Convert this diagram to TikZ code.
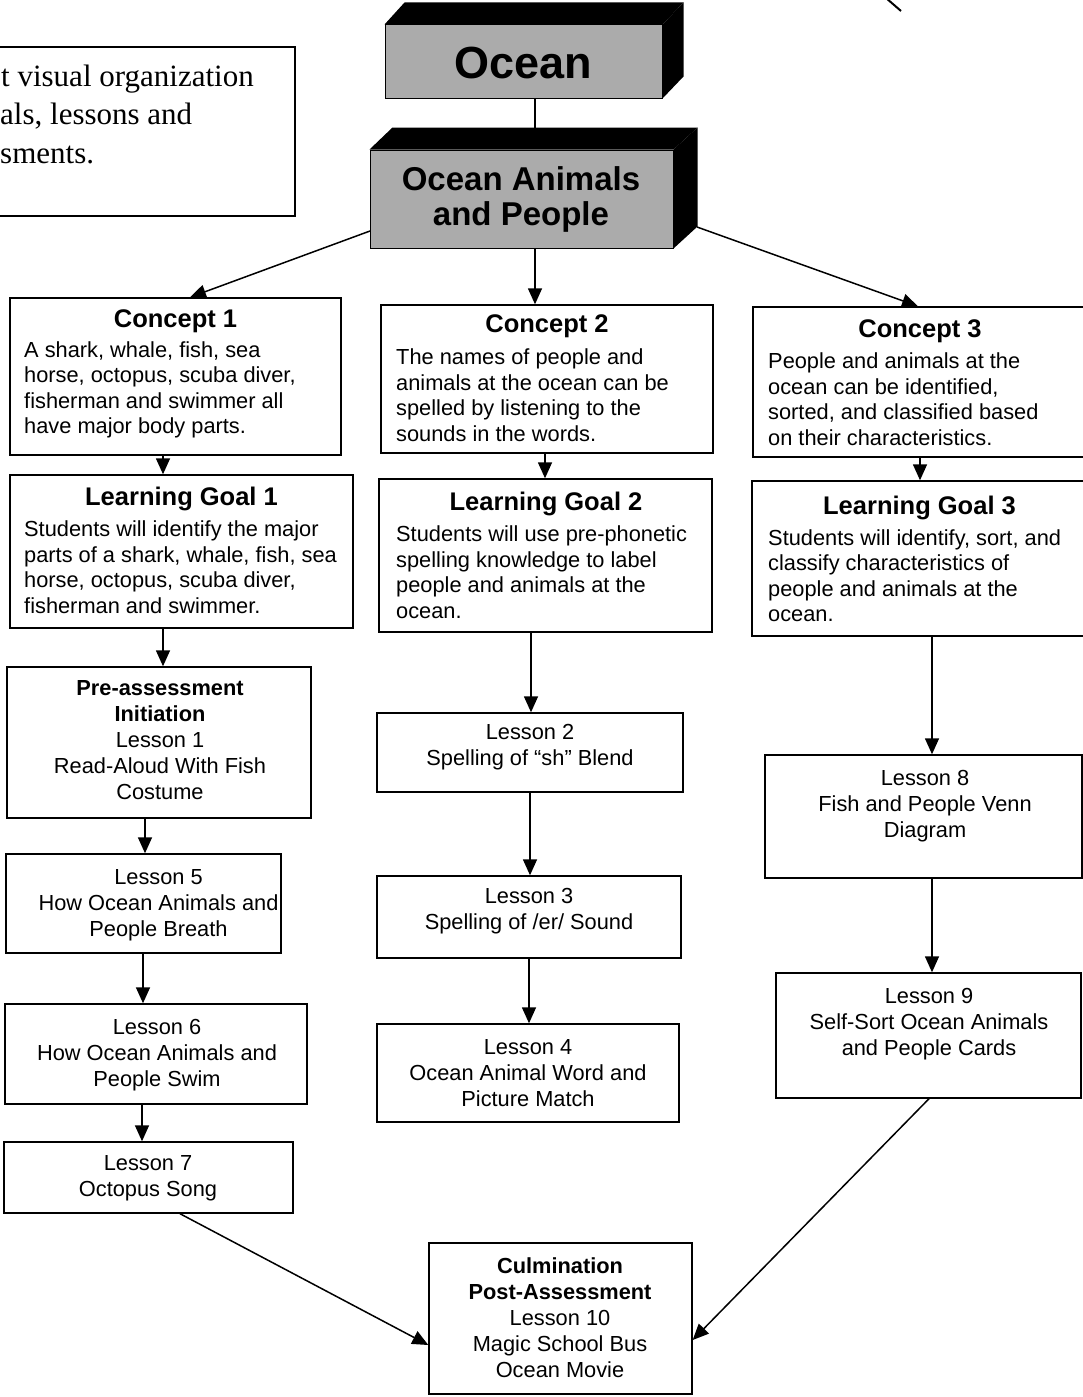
\documentclass[tikz,border=0pt]{standalone}
\usepackage{fontspec}
\setmainfont{Liberation Serif}
\setsansfont{Liberation Sans}
\usetikzlibrary{arrows.meta,fit,calc}
\begin{document}
\begin{tikzpicture}[x=1pt,y=-1pt,
  box/.style={draw, line width=1.4pt, inner sep=0pt, rectangle},
  face/.style={draw, line width=1pt, inner sep=0pt, rectangle, fill=black!33},
  conn/.style={line width=1.5pt},
  arr/.style={line width=1.5pt, -{Triangle[length=16pt,width=14pt]}},
  ttl/.style={font=\sffamily\bfseries\fontsize{25.5}{29}\selectfont, inner sep=0pt},
  bodytxt/.style={font=\sffamily\fontsize{21.8}{25.5}\selectfont, inner sep=0pt, align=left, anchor=west},
  lestxt/.style={font=\sffamily\fontsize{21.8}{26}\selectfont, inner sep=0pt, align=center},
  notetxt/.style={font=\rmfamily\fontsize{31}{38}\selectfont, inner sep=0pt, anchor=base west},
  bigtxt/.style={font=\sffamily\bfseries\fontsize{45}{48}\selectfont, inner sep=0pt},
  midtxt/.style={font=\sffamily\bfseries\fontsize{33}{35}\selectfont, inner sep=0pt, align=center}
]
\useasboundingbox (0,0) rectangle (1083,1397);
\fill[white] (0,0) rectangle (1083,1397);

% note box (cut at left edge)
\node[box, fit={(-20,47) (295,216)}] (note) {};
\node[notetxt] (n1) at (1,86) {t visual organization};
\node[notetxt] (n2) at (0,124) {als, lessons and};
\node[notetxt] (n3) at (0,163) {sments.};

% stray line at top right
\draw[line width=2pt] (886,-2) -- (901,11);

% Ocean 3D box
\node[face, fit={(385,25) (662,98)}] (ocean) {};
\fill[black] (ocean.north west) -- ++(20,-22) -- ($(ocean.north east)+(21,-22)$) -- (ocean.north east) -- cycle;
\fill[black] (ocean.north east) -- ++(21,-22) -- ($(ocean.south east)+(21,-22)$) -- (ocean.south east) -- cycle;
\node[bigtxt] (oceant) at (523.5,63) {Ocean};

% connector Ocean -> Ocean Animals
\coordinate (oaback) at (535,128);
\draw[conn] (ocean.south -| oaback) -- (oaback);

% Ocean Animals 3D box
\node[face, fit={(370,150) (673,248)}] (oa) {};
\fill[black] (oa.north west) -- ++(23,-22) -- ($(oa.north east)+(24,-22)$) -- (oa.north east) -- cycle;
\fill[black] (oa.north east) -- ++(24,-22) -- ($(oa.south east)+(24,-22)$) -- (oa.south east) -- cycle;
\node[midtxt] (oat) at (521,199.5) {Ocean Animals\\and People};

% column 1
\node[box, fit={(10,298) (341,455)}] (c1) {};
\node[ttl] (c1t) at (175.5,321) {Concept 1};
\node[bodytxt] (c1b) at (24,390) {A shark, whale, fish, sea\\horse, octopus, scuba diver,\\fisherman and swimmer all\\have major body parts.};

\node[box, fit={(10,475) (353,628)}] (lg1) {};
\node[ttl] (lg1t) at (181.5,499) {Learning Goal 1};
\node[bodytxt] (lg1b) at (24,567) {Students will identify the major\\parts of a shark, whale, fish, sea\\horse, octopus, scuba diver,\\fisherman and swimmer.};

\node[box, fit={(7,667) (311,818)}] (pre) {};
\node[lestxt] (pret) at (160,740) {\textbf{Pre-assessment}\\\textbf{Initiation}\\Lesson 1\\Read-Aloud With Fish\\Costume};

\node[box, fit={(6,854) (281,953)}] (l5) {};
\node[lestxt] (l5t) at (158.5,905) {Lesson 5\\How Ocean Animals and\\People Breath};

\node[box, fit={(5,1004) (307,1104)}] (l6) {};
\node[lestxt] (l6t) at (157,1055) {Lesson 6\\How Ocean Animals and\\People Swim};

\node[box, fit={(4,1142) (293,1213)}] (l7) {};
\node[lestxt] (l7t) at (148,1178) {Lesson 7\\Octopus Song};

% column 2
\node[box, fit={(381,305) (713,453)}] (c2) {};
\node[ttl] (c2t) at (547,326) {Concept 2};
\node[bodytxt] (c2b) at (396,395) {The names of people and\\animals at the ocean can be\\spelled by listening to the\\sounds in the words.};

\node[box, fit={(379,479) (712,632)}] (lg2) {};
\node[ttl] (lg2t) at (546,504) {Learning Goal 2};
\node[bodytxt] (lg2b) at (396,572) {Students will use pre-phonetic\\spelling knowledge to label\\people and animals at the\\ocean.};

\node[box, fit={(377,713) (683,792)}] (l2) {};
\node[lestxt] (l2t) at (530,747) {Lesson 2\\Spelling of “sh” Blend};

\node[box, fit={(377,876) (681,958)}] (l3) {};
\node[lestxt] (l3t) at (529,911) {Lesson 3\\Spelling of /er/ Sound};

\node[box, fit={(377,1024) (679,1122)}] (l4) {};
\node[lestxt] (l4t) at (528,1073) {Lesson 4\\Ocean Animal Word and\\Picture Match};

% column 3
\node[box, fit={(753,307) (1095,457)}] (c3) {};
\node[ttl] (c3t) at (920,331) {Concept 3};
\node[bodytxt] (c3b) at (768,399) {People and animals at the\\ocean can be identified,\\sorted, and classified based\\on their characteristics.};

\node[box, fit={(752,481) (1095,636)}] (lg3) {};
\node[ttl] (lg3t) at (919.5,508) {Learning Goal 3};
\node[bodytxt] (lg3b) at (768,575.5) {Students will identify, sort, and\\classify characteristics of\\people and animals at the\\ocean.};

\node[box, fit={(765,755) (1082,878)}] (l8) {};
\node[lestxt] (l8t) at (925,806) {Lesson 8\\Fish and People Venn\\Diagram};

\node[box, fit={(776,973) (1081,1098)}] (l9) {};
\node[lestxt] (l9t) at (929,1024.5) {Lesson 9\\Self-Sort Ocean Animals\\and People Cards};

% culmination
\node[box, fit={(429,1243) (692,1394)}] (culm) {};
\node[lestxt] (culmt) at (560,1318) {\textbf{Culmination}\\\textbf{Post-Assessment}\\Lesson 10\\Magic School Bus\\Ocean Movie};

% connector columns
\coordinate (k190) at (190,0);
\coordinate (k535) at (535,0);
\coordinate (k918) at (918,0);
\coordinate (k163) at (163,0);
\coordinate (k145) at (145,0);
\coordinate (k143) at (143,0);
\coordinate (k142) at (142,0);
\coordinate (k180) at (180,0);
\coordinate (k545) at (545,0);
\coordinate (k531) at (531,0);
\coordinate (k530) at (530,0);
\coordinate (k529) at (529,0);
\coordinate (k920) at (920,0);
\coordinate (k932) at (932,0);
\coordinate (k929) at (929,0);
\coordinate (oaL) at (370,231);
\coordinate (oaR) at (697,227);
\coordinate (cmL) at (429,1345);
\coordinate (cmR) at (692,1340);

% connectors
\draw[arr] (oaL) -- (c1.north -| k190);
\draw[arr] (oa.south -| k535) -- (c2.north -| k535);
\draw[arr] (oaR) -- (c3.north -| k918);

\draw[arr] (c1.south -| k163) -- (lg1.north -| k163);
\draw[arr] (lg1.south -| k163) -- (pre.north -| k163);
\draw[arr] (pre.south -| k145) -- (l5.north -| k145);
\draw[arr] (l5.south -| k143) -- (l6.north -| k143);
\draw[arr] (l6.south -| k142) -- (l7.north -| k142);
\draw[arr] (l7.south -| k180) -- (culm.west |- cmL);

\draw[arr] (c2.south -| k545) -- (lg2.north -| k545);
\draw[arr] (lg2.south -| k531) -- (l2.north -| k531);
\draw[arr] (l2.south -| k530) -- (l3.north -| k530);
\draw[arr] (l3.south -| k529) -- (l4.north -| k529);

\draw[arr] (c3.south -| k920) -- (lg3.north -| k920);
\draw[arr] (lg3.south -| k932) -- (l8.north -| k932);
\draw[arr] (l8.south -| k932) -- (l9.north -| k932);
\draw[arr] (l9.south -| k929) -- (culm.east |- cmR);
\end{tikzpicture}
\end{document}
